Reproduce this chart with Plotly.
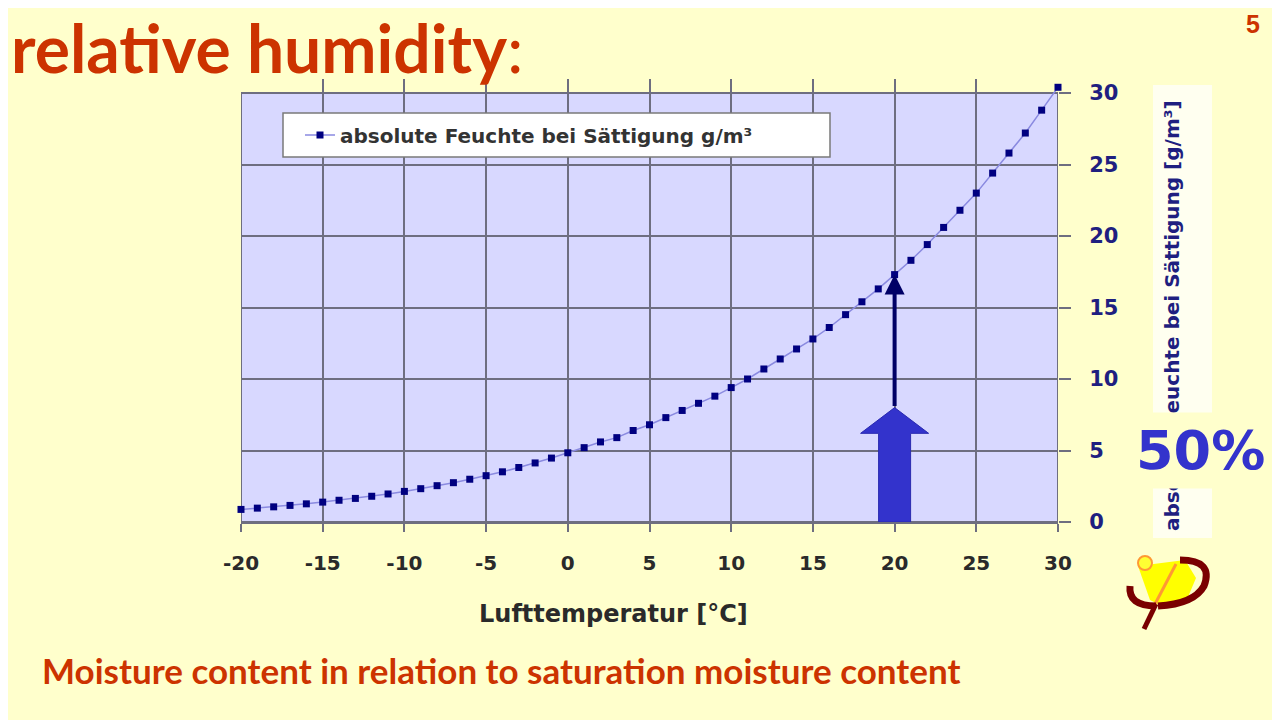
import plotly.graph_objects as go

# ---- data ----
temperature_c = list(range(-20, 31))
saturation_g_m3 = [0.88, 0.97, 1.06, 1.16, 1.27, 1.39, 1.52, 1.65, 1.80, 1.96,
                   2.14, 2.33, 2.54, 2.75, 2.99, 3.24, 3.51, 3.81, 4.13, 4.47,
                   4.84, 5.2, 5.6, 5.9, 6.4, 6.8, 7.3, 7.8, 8.3, 8.8,
                   9.4, 10.0, 10.7, 11.4, 12.1, 12.8, 13.6, 14.5, 15.4, 16.3,
                   17.3, 18.3, 19.4, 20.6, 21.8, 23.0, 24.4, 25.8, 27.2, 28.8, 30.4]
x_ticks = [-20, -15, -10, -5, 0, 5, 10, 15, 20, 25, 30]
x_tick_labels = ["-20", "-15", "-10", "-5", "0", "5", "10", "15", "20", "25", "30"]
y_ticks = [0, 5, 10, 15, 20, 25, 30]
series_name = "absolute Feuchte bei Sättigung g/m³"
arrow_temp = 20
arrow_value_low = 8.0
arrow_value_high = 17.3
arrow_head_base = 6.2

W, H = 1280, 720
OFF = 8  # page offset of the figure in the browser
def px(x):
    return (x - OFF) / W
def py(y):
    return 1 - (y - OFF) / H

BG = "#FFFFCC"
RED = "#CC3300"
NAVY = "#1F1F80"
BOLD = "DejaVu Sans"
PLOT_BG = "#D8D8FF"

# plot frame: y=0 at 522 px, y=30 at 93 px; range extends a little above 30
Y_GRID_TOP = 30
Y_RANGE_TOP = 31
y_bottom_px, y30_px = 522, 93
y_top_px = y_bottom_px - Y_RANGE_TOP * (y_bottom_px - y30_px) / Y_GRID_TOP

fig = go.Figure()
fig.add_trace(go.Scatter(
    x=temperature_c, y=saturation_g_m3, mode="lines+markers", name=series_name,
    line=dict(color="#8A8AE0", width=1.5),
    marker=dict(symbol="square", size=7, color="#000080"),
    cliponaxis=False,
))

grid_col = "#6E6E80"
fig.update_layout(
    width=W, height=H, margin=dict(l=0, r=0, t=0, b=0, autoexpand=False),
    paper_bgcolor=BG, plot_bgcolor="rgba(0,0,0,0)",
    showlegend=True,
    legend=dict(x=px(300), y=py(135), xanchor="left", yanchor="middle",
                bgcolor="rgba(0,0,0,0)", borderwidth=0,
                font=dict(family=BOLD, size=20, color="#333333", weight="bold")),
    xaxis=dict(domain=[px(241), px(1058)], range=[-20, 30], tickvals=x_ticks, ticktext=x_tick_labels,
               automargin=False,
               showgrid=True, gridcolor=grid_col, gridwidth=2,
               showline=True, linecolor=grid_col, linewidth=2, mirror=False,
               ticks="outside", ticklen=8, tickcolor=grid_col, tickwidth=2,
               ticklabelstandoff=14, zeroline=False,
               tickfont=dict(family=BOLD, size=20, color="#2A2A2A", weight="bold")),
    yaxis=dict(domain=[py(y_bottom_px), py(y_top_px)], range=[0, Y_RANGE_TOP], tickvals=y_ticks, side="right",
               automargin=False,
               showgrid=True, gridcolor=grid_col, gridwidth=2,
               showline=False, zeroline=False,
               ticks="outside", ticklen=12, tickcolor=grid_col, tickwidth=2,
               ticklabelstandoff=14,
               tickfont=dict(family=BOLD, size=21, color=NAVY, weight="bold")),
)

shapes = []
# plot area background + frame (0..30 only)
shapes.append(dict(type="rect", xref="x", yref="y", x0=-20, x1=30, y0=0, y1=Y_GRID_TOP,
                   fillcolor=PLOT_BG, line=dict(color=grid_col, width=2), layer="below"))
# legend box
shapes.append(dict(type="rect", xref="paper", yref="paper",
                   x0=px(283), x1=px(830), y0=py(157), y1=py(113),
                   fillcolor="white", line=dict(color="#7A7A7A", width=1.5), layer="above"))
# y title box
shapes.append(dict(type="rect", xref="paper", yref="paper",
                   x0=px(1153), x1=px(1212), y0=py(538), y1=py(85),
                   fillcolor="#FFFFF0", line=dict(width=0), layer="below"))
# big blue block arrow
hb = arrow_head_base
shapes.append(dict(type="path", xref="x", yref="y", xsizemode="pixel", xanchor=arrow_temp,
                   path=f"M -16,0 L 16,0 L 16,{hb} L 34,{hb} L 0,{arrow_value_low} L -34,{hb} L -16,{hb} Z",
                   fillcolor="#3333CC", line=dict(color="#2A2AB0", width=1), layer="above"))

# logo (phi-like symbol)
def P(pts):
    return " ".join(("M" if i == 0 else "L") + f" {px(a)},{py(b)}" for i, (a, b) in enumerate(pts))
shapes.append(dict(type="path", xref="paper", yref="paper",
                   path=P([(1138, 566), (1185, 560), (1196, 578), (1188, 597), (1162, 606), (1150, 600)]) + " Z",
                   fillcolor="#FFFF00", line=dict(width=0)))
shapes.append(dict(type="path", xref="paper", yref="paper",
                   path=f"M {px(1176)},{py(564)} L {px(1154)},{py(606)}",
                   line=dict(color="#FF9933", width=3)))
shapes.append(dict(type="path", xref="paper", yref="paper",
                   path=f"M {px(1180)},{py(560)} Q {px(1214)},{py(560)} {px(1204)},{py(586)} Q {px(1194)},{py(604)} {px(1158)},{py(606)}",
                   line=dict(color="#7A0000", width=7)))
shapes.append(dict(type="path", xref="paper", yref="paper",
                   path=f"M {px(1130)},{py(586)} Q {px(1128)},{py(606)} {px(1156)},{py(606)}",
                   line=dict(color="#7A0000", width=7)))
shapes.append(dict(type="path", xref="paper", yref="paper",
                   path=f"M {px(1156)},{py(604)} L {px(1144)},{py(629)}",
                   line=dict(color="#7A0000", width=5)))
shapes.append(dict(type="circle", xref="paper", yref="paper",
                   x0=px(1138), x1=px(1152), y0=py(570), y1=py(556),
                   fillcolor="#FFFF33", line=dict(color="#FF9933", width=2)))
fig.update_layout(shapes=shapes)

ann = []
ann.append(dict(x=arrow_temp, y=arrow_value_high, ax=arrow_temp, ay=arrow_value_low,
                xref="x", yref="y", axref="x", ayref="y", text="", showarrow=True,
                arrowhead=2, arrowsize=1, arrowwidth=4, arrowcolor="#000066", standoff=0))
ann.append(dict(x=px(9), y=py(47), xref="paper", yref="paper", xanchor="left", yanchor="middle",
                text="relative humidity<span style='font-weight:normal'>:</span>",
                showarrow=False, font=dict(family="Lato", size=66, color=RED, weight="bold")))
ann.append(dict(x=px(1253), y=py(24), xref="paper", yref="paper", xanchor="center", yanchor="middle",
                text="5", showarrow=False,
                font=dict(family="Liberation Sans, Arial", size=25, color=RED, weight="bold")))
ann.append(dict(x=px(40), y=py(670), xref="paper", yref="paper", xanchor="left", yanchor="middle",
                text="Moisture content in relation to saturation moisture content", showarrow=False,
                font=dict(family="Lato", size=35, color=RED, weight="bold")))
ann.append(dict(x=px(613), y=py(614), xref="paper", yref="paper", xanchor="center", yanchor="middle",
                text="Lufttemperatur [°C]", showarrow=False,
                font=dict(family=BOLD, size=24, color="#2A2A2A", weight="bold")))
ann.append(dict(x=px(1172), y=py(316), xref="paper", yref="paper", xanchor="center", yanchor="middle",
                text="absolute Feuchte bei Sättigung [g/m³]", textangle=-90, showarrow=False,
                font=dict(family=BOLD, size=20, color=NAVY, weight="bold")))
ann.append(dict(x=px(1200), y=py(450), xref="paper", yref="paper", xanchor="center", yanchor="middle",
                text="50%", showarrow=False, bgcolor=BG, borderpad=6,
                font=dict(family=BOLD, size=54, color="#3333CC", weight="bold")))
fig.update_layout(annotations=ann)

fig.write_html("out.html")
